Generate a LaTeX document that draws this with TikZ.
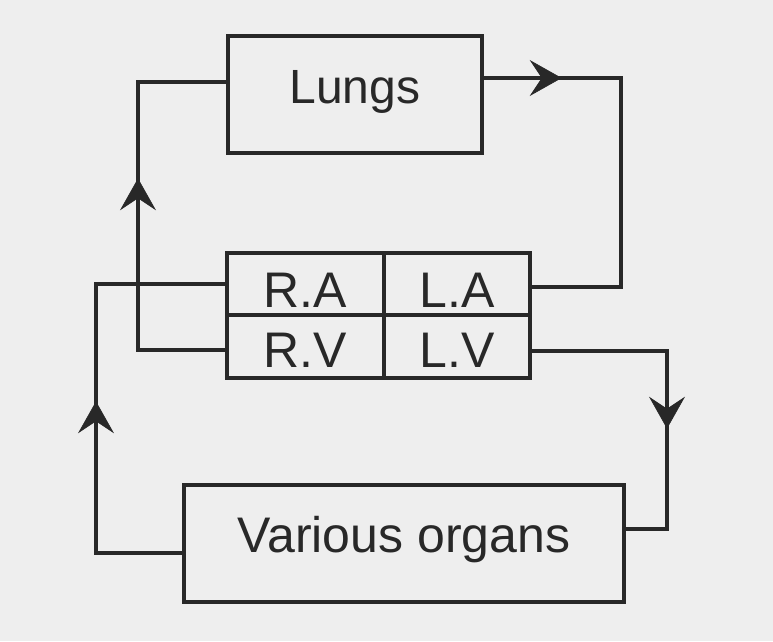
\documentclass[tikz,border=0pt]{standalone}
\usepackage{fontspec}
\setmainfont{Liberation Sans}
\usetikzlibrary{arrows.meta,decorations.markings}
\definecolor{ink}{RGB}{40,40,40}
\definecolor{paper}{RGB}{238,238,238}
\begin{document}
\begin{tikzpicture}[x=1pt,y=-1pt,
  box/.style={draw=ink, line width=3.4pt, rectangle, inner sep=0pt, text=ink},
  cellfont/.style={font=\fontsize{50}{58}\selectfont},
  wire/.style={draw=ink, line width=3.4pt},
  tipat/.style={postaction={decorate}, decoration={markings,
    mark=at position #1 with {\arrow[ink]{Stealth[length=32pt,width=36pt,inset=12pt,line width=0.6pt]}}}}]
\fill[paper] (0,0) rectangle (773,641);
\useasboundingbox (0,0) rectangle (773,641);

\node[box, minimum width=254pt, minimum height=117pt, text height=34pt, text depth=17pt,
      font=\fontsize{48}{56}\selectfont] (lungs) at (355,94.5) {Lungs};

\node[box, cellfont, minimum width=157pt, minimum height=62pt, text height=46pt, text depth=0pt] (ra) at (305.5,284) {R.A};
\node[box, cellfont, minimum width=146pt, minimum height=62pt, text height=46pt, text depth=0pt] (la) at (457,284) {L.A};
\node[box, cellfont, minimum width=157pt, minimum height=63pt, text height=41pt, text depth=0pt] (rv) at (305.5,346.5) {R.V};
\node[box, cellfont, minimum width=146pt, minimum height=63pt, text height=41pt, text depth=0pt] (lv) at (457,346.5) {L.V};

\node[box, cellfont, minimum width=440pt, minimum height=117pt, text height=34pt, text depth=17pt] (vo) at (404,543.5) {Various organs};

\draw[wire, tipat=259pt] ([yshift=-3.5pt]rv.west) -| (138,200) |- ([yshift=12.5pt]lungs.west);
\draw[wire, tipat=78pt] ([yshift=16.5pt]lungs.east) -| (621,200) |- ([yshift=-3pt]la.east);
\draw[wire, tipat=213pt] ([yshift=-4.5pt]lv.east) -| (667,450) |- ([yshift=14.5pt]vo.east);
\draw[wire, tipat=238pt] ([yshift=-9.5pt]vo.west) -| (96,400) |- (ra.west);
\end{tikzpicture}
\end{document}
